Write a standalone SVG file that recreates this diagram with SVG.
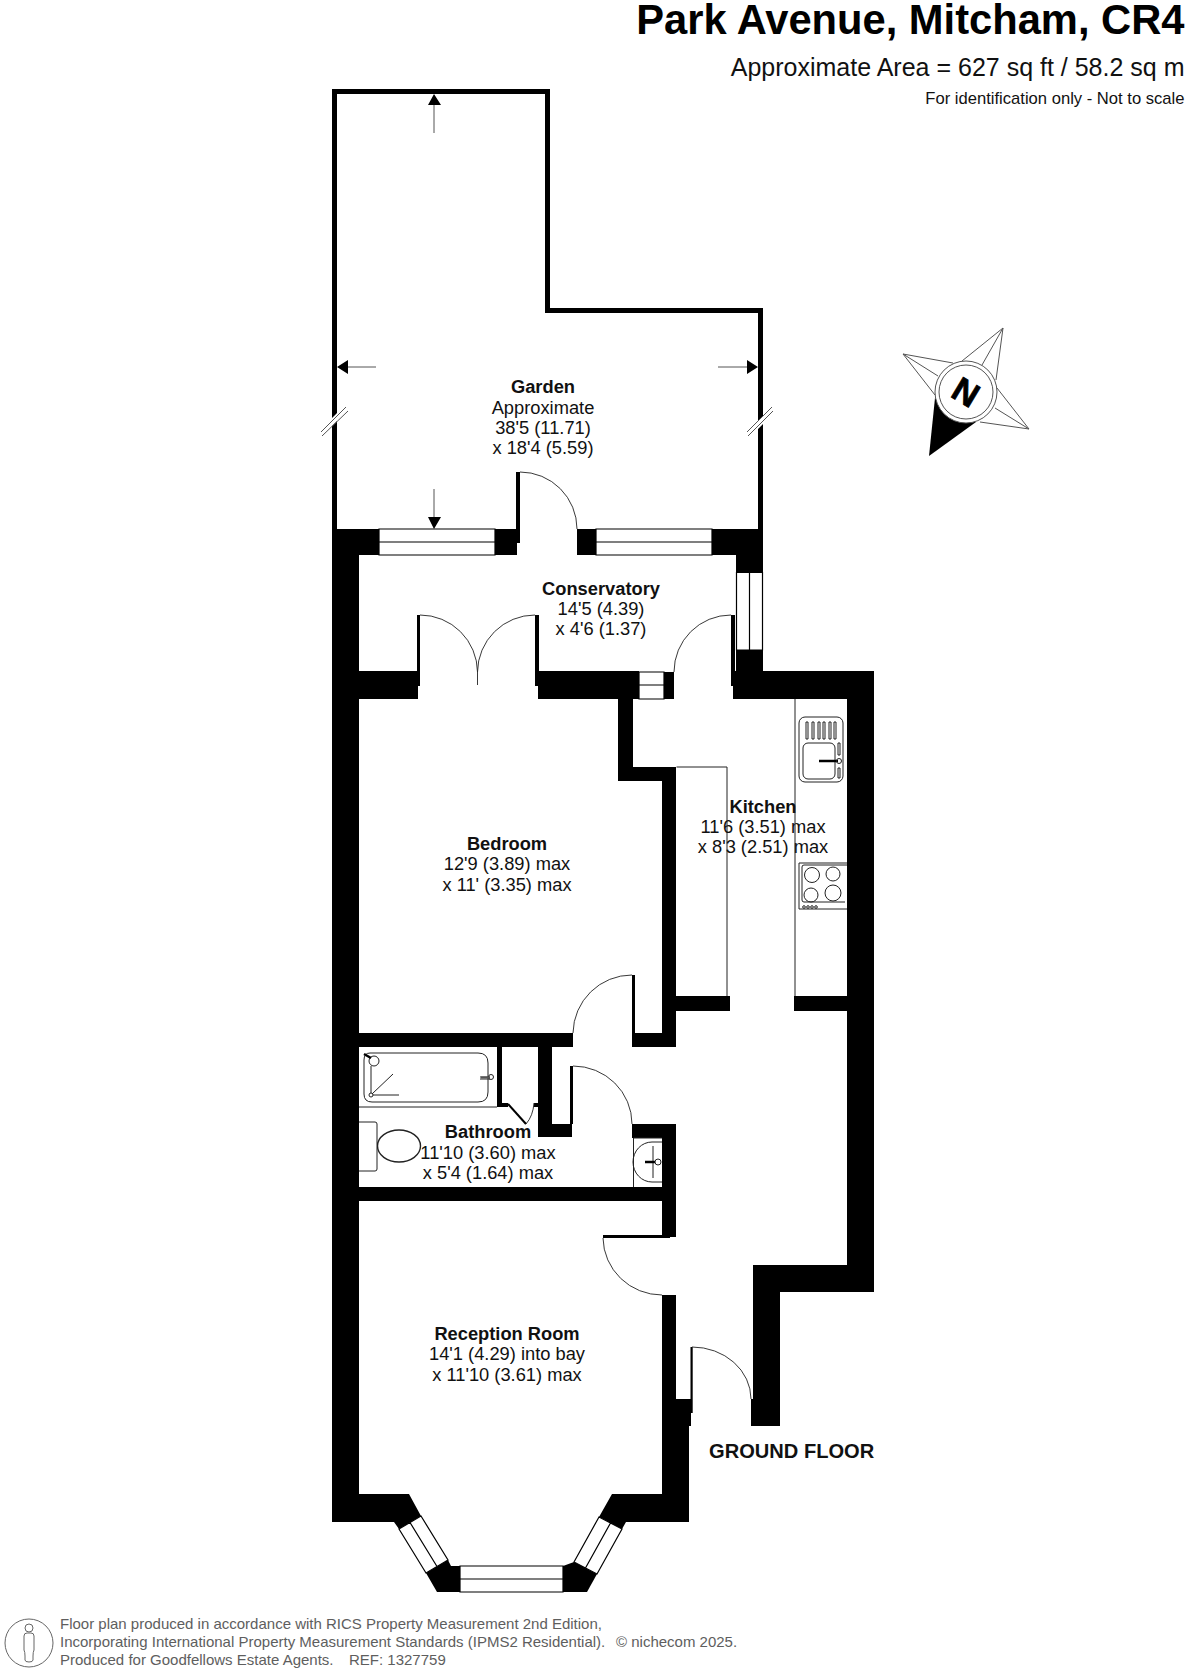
<svg xmlns="http://www.w3.org/2000/svg" width="1192" height="1672" viewBox="0 0 1192 1672">
<style>
text{font-family:"Liberation Sans",Arial,sans-serif;fill:#111}
.r{font-size:18.3px;text-anchor:middle}
.b{font-weight:bold}
.w{fill:#000;stroke:none}
.win{fill:#fff;stroke:#000;stroke-width:1.2}
.l{fill:none;stroke:#222;stroke-width:.9}
.t{fill:none;stroke:#222;stroke-width:1}
.a{fill:none;stroke:#555;stroke-width:1}
.f{font-size:15px;fill:#5e5e5e}
</style>
<rect width="1192" height="1672" fill="#fff"/>
<g id="title">
<text x="1184.500" y="33.500" font-size="41.700" font-weight="bold" text-anchor="end" style="fill:#000">Park Avenue, Mitcham, CR4</text>
<text x="1184.500" y="76" font-size="25" text-anchor="end">Approximate Area = 627 sq ft / 58.2 sq m</text>
<text x="1184.500" y="104" font-size="16.600" text-anchor="end">For identification only - Not to scale</text>
</g>
<g id="garden">
<path d="M334.5 529V91.5H547.5V310.5H760.5V529" fill="none" stroke="#000" stroke-width="5"/>
<path d="M337 421 L332 426 L332 418 L337 413Z M758 421 L763 416 L763 424 L758 429Z" fill="#fff"/>
<path class="a" d="M321 432L346 407M322 436L348 411M747 432L772 407M748 436L773 411"/>
<path class="a" d="M434 105V133M348 367H376M747 367H718M434 517V489"/>
<path d="M434 94L441 105H428ZM337 367L348 360V374ZM758 367L747 360V374ZM434 529L441 517H428Z" fill="#000"/>
</g>
<g id="walls">
<path class="w" d="M332 529H379V555H359V671H418V699H359V1033H573V1047H359V1187H662V1201H359V1494H409L421 1516L399 1529L394 1522H332Z"/>
<path class="w" d="M495 529H516V472H520V543H517V555H495Z"/>
<path class="w" d="M577 529H596V555H577Z"/>
<path class="w" d="M712 529H763V572H736V555H712Z"/>
<path class="w" d="M736 650H763V671H874V1292H780V1426H751V1399H753V1265H847V699H733V686H731V615H735V671H736Z"/>
<path class="w" d="M417 615H420V686H417Z M535 615H539V671H639V699H633V767H676V1047H632V975H635V1033H662V781H618V699H538V686H535Z"/>
<path class="w" d="M664 672H674V699H664Z"/>
<path class="w" d="M676 996H730V1011H676Z M794 996H847V1011H794Z"/>
<path class="w" d="M538 1047H552V1124H570V1066H573V1124H572V1137H538Z"/>
<path class="w" d="M632 1124H676V1237H670V1238H603V1235H662V1138H632Z"/>
<path class="w" d="M662 1295H676V1399H690.500V1347H692.700V1413H691V1426H689V1522H626L622 1529L599 1517L612 1494H662Z"/>
<path class="w" d="M497 1047H502V1103H508V1107H497Z M534 1103H538V1107H534Z"/>
<path class="w" d="M437 1592L426 1573L448 1560L451 1566H460V1592Z"/>
<path class="w" d="M563 1566L574 1562L597 1574L587 1592H563Z"/>
</g>
<g id="windows">
<path class="win" d="M379 529H495V555H379ZM379 542H495"/>
<path class="win" d="M596 529H712V555H596ZM596 542H712"/>
<path class="win" d="M736.500 572.500H762.500V650H736.500ZM749.500 572.500V650"/>
<path class="win" d="M639 672H664V699H639ZM639 685H664"/>
<path class="win" d="M399 1529L421 1516L448 1560L426 1573ZM410 1522.500L437 1566.500"/>
<path class="win" d="M460 1566H563V1592H460ZM460 1579H563"/>
<path class="win" d="M574 1562L599 1517L622 1529L597 1574ZM585.500 1568L610.500 1523"/>
</g>
<g id="doors">
<path class="l" d="M520 472A57 57 0 0 1 577 529"/>
<path class="l" d="M420 615A57.500 57.500 0 0 1 477.500 672V685M535 615A57.500 57.500 0 0 0 477.500 672"/>
<path class="l" d="M731 615A57 57 0 0 0 674 672"/>
<path class="l" d="M632 975A59 59 0 0 0 573 1033"/>
<path class="l" d="M573 1066A59 58 0 0 1 632 1124"/>
<path class="l" d="M603 1238A59 58 0 0 0 662 1295"/>
<path class="l" d="M692 1347A59 52 0 0 1 751 1399"/>
<path d="M508 1104L526 1124" fill="none" stroke="#000" stroke-width="2"/>
<path class="l" d="M526 1124Q533 1116 534 1103"/>
</g>
<g id="fittings">
<path class="t" d="M676.500 767H727V996M795 699V996"/>
<g id="sink"><rect class="t" x="799" y="717" width="44" height="65" rx="6"/><rect class="t" x="803" y="743" width="32" height="36" rx="5"/>
<path class="t" d="M806 722h2v17h-2zM812 722h2v17h-2zM818 722h2v17h-2zM823 722h2v17h-2zM829 722h2v17h-2zM834 722h2v17h-2zM838 743h2v12h-2zM838 768h2v10h-2z"/>
<path d="M819 761H838" stroke="#000" stroke-width="2.500"/><circle class="t" cx="839" cy="761" r="2.500"/></g>
<g id="hob"><path class="t" d="M847 863H799V909H847"/><path class="t" d="M847 865H804Q802 865 802 867V900Q802 902 804 902H845"/>
<circle class="t" cx="812" cy="875" r="7.500"/><circle class="t" cx="833" cy="874" r="7"/><circle class="t" cx="811" cy="895" r="7"/><circle class="t" cx="833" cy="893" r="8"/>
<circle class="t" cx="804" cy="907" r="1.300"/><circle class="t" cx="808" cy="907" r="1.300"/><circle class="t" cx="812" cy="907" r="1.300"/><circle class="t" cx="816" cy="907" r="1.300"/></g>
<g id="bath"><path class="t" d="M359 1107H497"/><path class="t" d="M370 1053H478Q488 1053 488 1063V1092Q488 1102 478 1102H372Q364 1102 364 1094V1060Q364 1053 370 1053Z"/>
<circle class="t" cx="374" cy="1061" r="5"/><path d="M364 1054L371 1058" stroke="#000" stroke-width="2.500"/>
<path class="t" d="M371 1066V1093M373 1095H399M372 1094L393 1074"/><circle class="t" cx="371" cy="1095" r="2"/>
<path class="t" d="M480 1077H490M480 1079H490"/><circle class="t" cx="491" cy="1077" r="2.500"/><path d="M481 1077.500H490" stroke="#555" stroke-width="2"/></g>
<g id="toilet"><ellipse cx="399" cy="1146" rx="21.500" ry="16" fill="#fff" stroke="#222" stroke-width="1.400"/><path class="t" d="M359 1122H375Q377 1122 377 1124V1169Q377 1171 375 1171H359" style="fill:#fff"/></g>
<g id="basin"><path class="t" d="M633.500 1138V1187M633.500 1138H662"/><path class="t" d="M662 1142H652A19 20 0 0 0 652 1182H662"/><path class="t" d="M653 1146V1178"/>
<path d="M645 1162H655" stroke="#000" stroke-width="2.500"/><circle class="t" cx="658" cy="1162" r="3"/></g>
</g>
<g id="labels">
<text class="r b" x="543" y="393">Garden</text><text class="r" x="543" y="414">Approximate</text><text class="r" x="543" y="434">38'5 (11.71)</text><text class="r" x="543" y="454">x 18'4 (5.59)</text>
<text class="r b" x="601" y="595">Conservatory</text><text class="r" x="601" y="615">14'5 (4.39)</text><text class="r" x="601" y="635">x 4'6 (1.37)</text>
<text class="r b" x="507" y="850">Bedroom</text><text class="r" x="507" y="870">12'9 (3.89) max</text><text class="r" x="507" y="891">x 11' (3.35) max</text>
<text class="r b" x="763" y="813">Kitchen</text><text class="r" x="763" y="833">11'6 (3.51) max</text><text class="r" x="763" y="853">x 8'3 (2.51) max</text>
<text class="r b" x="488" y="1138">Bathroom</text><text class="r" x="488" y="1159">11'10 (3.60) max</text><text class="r" x="488" y="1179">x 5'4 (1.64) max</text>
<text class="r b" x="507" y="1340">Reception Room</text><text class="r" x="507" y="1360">14'1 (4.29) into bay</text><text class="r" x="507" y="1381">x 11'10 (3.61) max</text>
<text x="709" y="1458" font-size="20.100" font-weight="bold">GROUND FLOOR</text>
</g>
<g id="compass">
<path class="a" d="M1003 328L962 361M1003 328L982 365M1003 328L996 380M903 354L953 363M903 354L938 376M903 354L935 395M1029 429L997 388M1029 429L995 408M1029 429L980 422"/>
<path d="M929 456L935 398L976 422Z" fill="#000"/>
<circle cx="966" cy="392" r="31" fill="#fff" stroke="#555"/><circle cx="966" cy="392" r="27" fill="none" stroke="#555"/>
<text x="966" y="404" font-size="34" font-weight="bold" text-anchor="middle" transform="rotate(31 966 392)" style="fill:#000;stroke:#000;stroke-width:.8">N</text>
</g>
<g id="footer">
<circle cx="29" cy="1643" r="24" fill="none" stroke="#666"/>
<circle cx="29" cy="1628" r="4" fill="none" stroke="#666"/>
<path d="M24 1636Q24 1633 27 1633H31Q34 1633 34 1636V1650Q33 1652 33 1656V1660Q33 1662 29 1662Q25 1662 25 1660V1656Q25 1652 24 1650Z" fill="none" stroke="#666"/>
<text class="f" x="60" y="1629">Floor plan produced in accordance with RICS Property Measurement 2nd Edition,</text>
<text class="f" x="60" y="1647">Incorporating International Property Measurement Standards (IPMS2 Residential).</text>
<text class="f" x="616" y="1647">© nichecom 2025.</text>
<text class="f" x="60" y="1665">Produced for Goodfellows Estate Agents.</text>
<text class="f" x="349" y="1665">REF: 1327759</text>
</g>
</svg>
